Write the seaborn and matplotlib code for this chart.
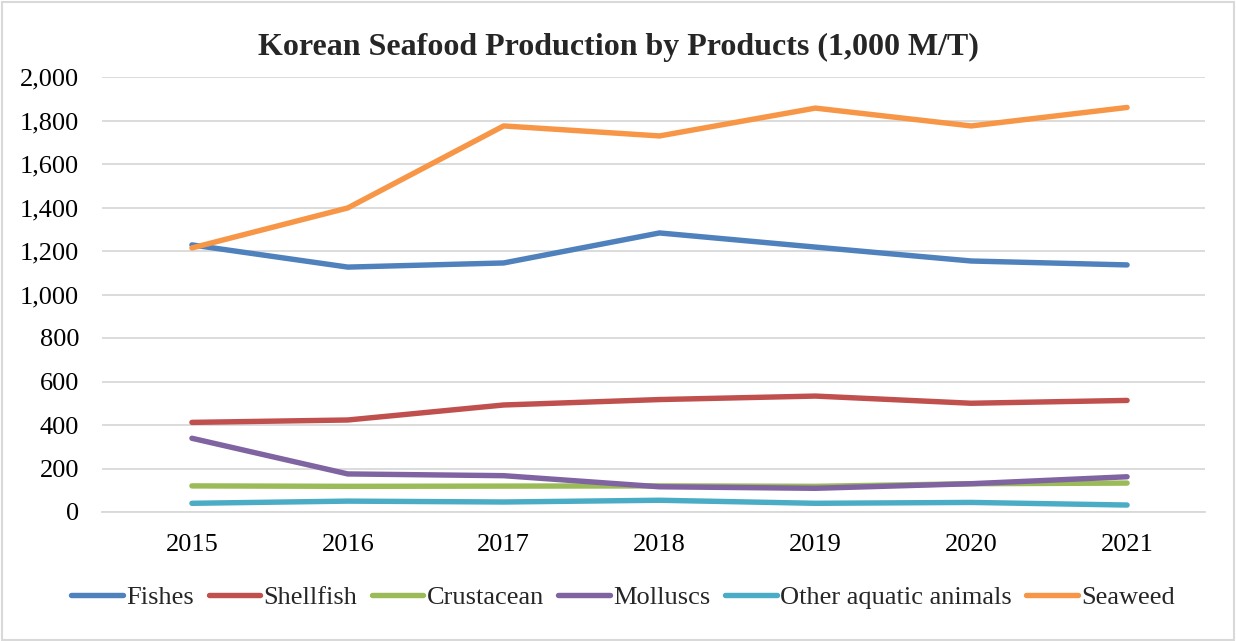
import matplotlib
matplotlib.use("Agg")
import matplotlib.pyplot as plt
import seaborn as sns
import pandas as pd
from matplotlib.patches import Rectangle
from matplotlib.lines import Line2D

years = ["2015", "2016", "2017", "2018", "2019", "2020", "2021"]
fishes = [1228, 1126, 1145, 1283, 1218, 1154, 1136]
shellfish = [412, 423, 492, 517, 533, 500, 513]
crustacean = [120, 118, 119, 120, 118, 130, 133]
molluscs = [339, 175, 167, 116, 109, 130, 162]
other = [40, 50, 46, 54, 40, 44, 32]
seaweed = [1214, 1398, 1775, 1729, 1857, 1775, 1860]

series_names = ["Fishes", "Shellfish", "Crustacean", "Molluscs", "Other aquatic animals", "Seaweed"]
series_vals = [fishes, shellfish, crustacean, molluscs, other, seaweed]
colors = ["#4F81BD", "#C0504D", "#9BBB59", "#8064A2", "#4BACC6", "#F79646"]

rows = []
for name, vals in zip(series_names, series_vals):
    for i, (y, v) in enumerate(zip(years, vals)):
        rows.append({"idx": i, "year": y, "value": v, "series": name})
df = pd.DataFrame(rows)

sns.set_theme(style="white")
plt.rcParams["font.family"] = ["Liberation Serif", "DejaVu Serif"]

fig = plt.figure(figsize=(12.36, 6.41), dpi=100)
W, H = 1236, 641
ax = fig.add_axes([102 / W, (H - 512) / H, (1205 - 102) / W, (512 - 77) / H])

sns.lineplot(data=df, x="idx", y="value", hue="series", hue_order=series_names,
             palette=colors, linewidth=3.9, ax=ax, legend=False,
             solid_capstyle="round", solid_joinstyle="round")

ax.set_xlim(-0.577, 6.5)
ax.set_ylim(0, 2000)
ax.set_xticks(range(len(years)))
ax.set_xticklabels(years)
ax.set_yticks(range(0, 2001, 200))
ax.set_yticklabels([f"{v:,}" for v in range(0, 2001, 200)])
ax.yaxis.grid(True, color="#D9D9D9", linewidth=1.3)
ax.set_axisbelow(True)
for s in ["top", "right", "left"]:
    ax.spines[s].set_visible(False)
ax.spines["bottom"].set_color("#D9D9D9")
ax.spines["bottom"].set_linewidth(1.3)
ax.tick_params(axis="y", length=0, pad=16.5, labelsize=19, colors="black")
ax.tick_params(axis="x", length=0, pad=16, labelsize=19, colors="black")
ax.set_xlabel("")
ax.set_ylabel("")

fig.text(618 / W, 1 - 47 / H, "Korean Seafood Production by Products (1,000 M/T)",
         ha="center", va="center", fontsize=23, fontweight="bold")

handles = [Line2D([0], [0], color=c, linewidth=3.9, solid_capstyle="round") for c in colors]
fig.legend(handles, series_names, loc="center", bbox_to_anchor=(623 / W, 1 - 597 / H),
           ncol=6, frameon=False, fontsize=19, handlelength=1.95, handletextpad=0.12,
           columnspacing=0.56, borderaxespad=0, borderpad=0)

fig.patches.append(Rectangle((0.002, 0.002), 0.996, 0.995, transform=fig.transFigure,
                             fill=False, edgecolor="#D9D9D9", linewidth=1.5))

fig.savefig("out.png", dpi=100)
